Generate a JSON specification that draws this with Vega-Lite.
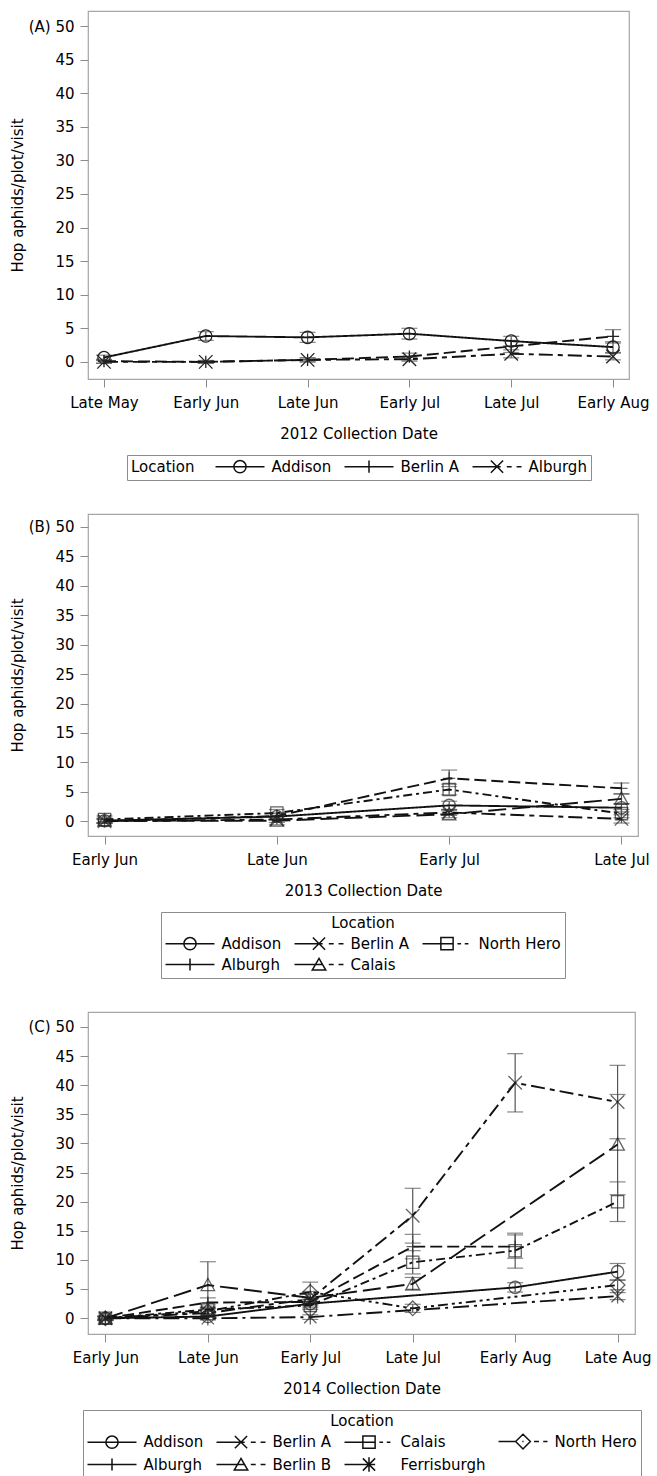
{
  "$schema": "https://vega.github.io/schema/vega-lite/v6.json",
  "padding": {"left": 9, "top": 10, "right": 4, "bottom": 0},
  "config": {
    "font": "DejaVu Sans",
    "background": "white",
    "view": {"stroke": "#a6a6a6", "strokeWidth": 1.2},
    "axis": {
      "labelFontSize": 15, "titleFontSize": 15, "titleFontWeight": "normal",
      "labelColor": "#000", "titleColor": "#000", "tickColor": "#8c8c8c",
      "domain": false, "grid": false, "tickSize": 8
    },
    "legend": {
      "labelFontSize": 15, "titleFontSize": 15, "titleFontWeight": "normal",
      "labelColor": "#000", "titleColor": "#000",
      "strokeColor": "#8c8c8c", "padding": 4,
      "symbolSize": 150, "symbolStrokeWidth": 1.5, "symbolStrokeColor": "#111",
      "symbolFillColor": "transparent", "symbolOpacity": 1,
      "symbolOffset": 17.5, "labelOffset": 24,
      "columnPadding": 9, "rowPadding": 2, "offset": 14,
      "layout": {"bottom": {"anchor": "middle"}}
    }
  },
  "spacing": 31,
  "resolve": {
    "scale": {"shape": "independent", "strokeDash": "independent", "x": "independent", "y": "independent"},
    "legend": {"shape": "independent"}
  },
  "vconcat": [
    {
      "width": 541, "height": 368,
      "data": {"values": [
        {"date": "Late May", "loc": "Addison", "v": 0.65, "lo": 0.3, "hi": 1.0},
        {"date": "Early Jun", "loc": "Addison", "v": 3.85, "lo": 3.2, "hi": 4.5},
        {"date": "Late Jun", "loc": "Addison", "v": 3.65, "lo": 2.9, "hi": 4.4},
        {"date": "Early Jul", "loc": "Addison", "v": 4.2, "lo": 3.4, "hi": 5.0},
        {"date": "Late Jul", "loc": "Addison", "v": 3.1, "lo": 2.4, "hi": 3.8},
        {"date": "Early Aug", "loc": "Addison", "v": 2.2, "lo": 1.4, "hi": 3.0},
        {"date": "Late May", "loc": "Berlin A", "v": 0.1, "lo": -0.2, "hi": 0.4},
        {"date": "Early Jun", "loc": "Berlin A", "v": 0.0, "lo": -0.2, "hi": 0.2},
        {"date": "Late Jun", "loc": "Berlin A", "v": 0.3, "lo": 0.0, "hi": 0.6},
        {"date": "Early Jul", "loc": "Berlin A", "v": 0.8, "lo": 0.3, "hi": 1.3},
        {"date": "Late Jul", "loc": "Berlin A", "v": 2.3, "lo": 1.4, "hi": 3.2},
        {"date": "Early Aug", "loc": "Berlin A", "v": 3.8, "lo": 2.8, "hi": 4.8},
        {"date": "Late May", "loc": "Alburgh", "v": 0.0, "lo": -0.2, "hi": 0.2},
        {"date": "Early Jun", "loc": "Alburgh", "v": 0.0, "lo": -0.2, "hi": 0.2},
        {"date": "Late Jun", "loc": "Alburgh", "v": 0.3, "lo": 0.0, "hi": 0.6},
        {"date": "Early Jul", "loc": "Alburgh", "v": 0.4, "lo": 0.1, "hi": 0.7},
        {"date": "Late Jul", "loc": "Alburgh", "v": 1.2, "lo": 0.6, "hi": 1.8},
        {"date": "Early Aug", "loc": "Alburgh", "v": 0.8, "lo": 0.3, "hi": 1.3}
      ]},
      "encoding": {
        "x": {
          "field": "date", "type": "ordinal", "title": "2012 Collection Date",
          "scale": {"type": "point", "domain": ["Late May", "Early Jun", "Late Jun", "Early Jul", "Late Jul", "Early Aug"], "padding": 0.157},
          "axis": {"labelAngle": 0, "labelPadding": 8, "titlePadding": 16}
        },
        "y": {
          "field": "v", "type": "quantitative", "title": "Hop aphids/plot/visit",
          "scale": {"domain": [-2.55, 52.25], "nice": false, "zero": false},
          "axis": {"values": [0, 5, 10, 15, 20, 25, 30, 35, 40, 45, 50], "labelExpr": "datum.value == 50 ? '(A)   50' : datum.label", "labelPadding": 6, "titlePadding": -7}
        }
      },
      "layer": [
        {
          "mark": {"type": "errorbar", "ticks": {"size": 16, "color": "#555", "thickness": 1.2}, "rule": {"color": "#555", "strokeWidth": 1.2}},
          "encoding": {"y": {"field": "lo", "type": "quantitative", "title": "Hop aphids/plot/visit"}, "y2": {"field": "hi"}}
        },
        {
          "mark": {"type": "line", "color": "#111", "strokeWidth": 1.9},
          "encoding": {
            "strokeDash": {"field": "loc", "type": "nominal", "legend": null,
              "scale": {"domain": ["Addison", "Berlin A", "Alburgh"], "range": [[1, 0], [12, 5], [14, 5, 5, 5]]}},
            "order": {"value": null}
          }
        },
        {
          "mark": {"type": "point", "filled": false, "size": 150, "color": "#222", "strokeWidth": 1.3, "opacity": 1},
          "encoding": {
            "shape": {"field": "loc", "type": "nominal", "legend": null,
              "scale": {"domain": ["Addison", "Berlin A", "Alburgh"], "range": ["circle", "M0,-1V1M-1,0H1", "M-1.1,-1.1L1.1,1.1M-1.1,1.1L1.1,-1.1"]}}
          }
        },
        {
          "mark": {"type": "point", "filled": false, "size": 150, "color": "#111", "strokeWidth": 1.5, "opacity": 0},
          "encoding": {
            "shape": {"field": "loc", "type": "nominal",
              "scale": {"domain": ["Addison", "Berlin A", "Alburgh"], "range": [
                "M-4,0H4M1,0A1,1,0,1,1,-1,0A1,1,0,1,1,1,0",
                "M-4,0H4M0,-1V1",
                "M-4,0H0.6M-1,-1L1,1M-1,1L1,-1M1.6,0H2.4M3.2,0H4"
              ]},
              "legend": {"title": "Location", "orient": "bottom", "direction": "horizontal", "columns": 3, "titleOrient": "left", "titlePadding": 20, "titleBaseline": "middle"}
            }
          }
        }
      ],
      "resolve": {"scale": {"shape": "independent"}}
    },
    {
      "width": 550, "height": 322,
      "data": {"values": [
        {"date": "Early Jun", "loc": "Addison", "v": 0.1, "lo": -0.3, "hi": 0.5},
        {"date": "Late Jun", "loc": "Addison", "v": 0.8, "lo": 0.3, "hi": 1.3},
        {"date": "Early Jul", "loc": "Addison", "v": 2.7, "lo": 2.0, "hi": 3.4},
        {"date": "Late Jul", "loc": "Addison", "v": 2.3, "lo": 1.6, "hi": 3.0},
        {"date": "Early Jun", "loc": "Alburgh", "v": 0.0, "lo": -0.3, "hi": 0.3},
        {"date": "Late Jun", "loc": "Alburgh", "v": 0.9, "lo": 0.4, "hi": 1.4},
        {"date": "Early Jul", "loc": "Alburgh", "v": 7.3, "lo": 5.9, "hi": 8.7},
        {"date": "Late Jul", "loc": "Alburgh", "v": 5.6, "lo": 4.7, "hi": 6.5},
        {"date": "Early Jun", "loc": "Berlin A", "v": 0.0, "lo": -0.3, "hi": 0.3},
        {"date": "Late Jun", "loc": "Berlin A", "v": 0.3, "lo": -0.2, "hi": 0.8},
        {"date": "Early Jul", "loc": "Berlin A", "v": 1.5, "lo": 1.0, "hi": 2.0},
        {"date": "Late Jul", "loc": "Berlin A", "v": 0.4, "lo": -0.3, "hi": 1.1},
        {"date": "Early Jun", "loc": "Calais", "v": 0.1, "lo": -0.3, "hi": 0.5},
        {"date": "Late Jun", "loc": "Calais", "v": 0.1, "lo": -0.6, "hi": 0.8},
        {"date": "Early Jul", "loc": "Calais", "v": 1.2, "lo": 0.6, "hi": 1.8},
        {"date": "Late Jul", "loc": "Calais", "v": 3.8, "lo": 3.0, "hi": 4.6},
        {"date": "Early Jun", "loc": "North Hero", "v": 0.3, "lo": -0.3, "hi": 0.9},
        {"date": "Late Jun", "loc": "North Hero", "v": 1.4, "lo": 0.8, "hi": 2.0},
        {"date": "Early Jul", "loc": "North Hero", "v": 5.4, "lo": 4.5, "hi": 6.3},
        {"date": "Late Jul", "loc": "North Hero", "v": 1.3, "lo": 0.6, "hi": 2.0}
      ]},
      "encoding": {
        "x": {
          "field": "date", "type": "ordinal", "title": "2013 Collection Date",
          "scale": {"type": "point", "domain": ["Early Jun", "Late Jun", "Early Jul", "Late Jul"], "padding": 0.096},
          "axis": {"labelAngle": 0, "labelPadding": 8, "titlePadding": 16}
        },
        "y": {
          "field": "v", "type": "quantitative", "title": "Hop aphids/plot/visit",
          "scale": {"domain": [-2.5, 52.2], "nice": false, "zero": false},
          "axis": {"values": [0, 5, 10, 15, 20, 25, 30, 35, 40, 45, 50], "labelExpr": "datum.value == 50 ? '(B)   50' : datum.label", "labelPadding": 6, "titlePadding": -7}
        }
      },
      "layer": [
        {
          "mark": {"type": "errorbar", "ticks": {"size": 16, "color": "#555", "thickness": 1.2}, "rule": {"color": "#555", "strokeWidth": 1.2}},
          "encoding": {"y": {"field": "lo", "type": "quantitative", "title": "Hop aphids/plot/visit"}, "y2": {"field": "hi"}}
        },
        {
          "mark": {"type": "line", "color": "#111", "strokeWidth": 1.9},
          "encoding": {
            "strokeDash": {"field": "loc", "type": "nominal", "legend": null,
              "scale": {"domain": ["Addison", "Alburgh", "Berlin A", "Calais", "North Hero"], "range": [[1, 0], [12, 5], [14, 5, 5, 5], [18, 6], [9, 4, 3, 4]]}},
            "order": {"value": null}
          }
        },
        {
          "mark": {"type": "point", "filled": false, "size": 150, "color": "#222", "strokeWidth": 1.3},
          "encoding": {
            "shape": {"field": "loc", "type": "nominal", "legend": null,
              "scale": {"domain": ["Addison", "Alburgh", "Berlin A", "Calais", "North Hero"], "range": ["circle", "M0,-1V1M-1,0H1", "M-1.1,-1.1L1.1,1.1M-1.1,1.1L1.1,-1.1", "M0,-1.1L1.1,0.9H-1.1Z", "square"]}}
          }
        },
        {
          "mark": {"type": "point", "filled": false, "size": 150, "color": "#111", "strokeWidth": 1.5, "opacity": 0},
          "encoding": {
            "shape": {"field": "loc", "type": "nominal",
              "scale": {"domain": ["Addison", "Berlin A", "North Hero", "Alburgh", "Calais"], "range": [
                "M-4,0H4M1,0A1,1,0,1,1,-1,0A1,1,0,1,1,1,0",
                "M-4,0H0.6M-1,-1L1,1M-1,1L1,-1M1.6,0H2.4M3.2,0H4",
                "M-4,0H1M-1,-1H1V1H-1ZM1.7,0H2.3M2.9,0H3.5",
                "M-4,0H4M0,-1V1",
                "M-4,0H0.5M0,-1L1.1,0.9H-1.1ZM1.6,0H2.4M3.2,0H4"
              ]},
              "legend": {"title": "Location", "orient": "bottom", "direction": "horizontal", "columns": 3, "titleOrient": "top", "titleAnchor": "middle"}
            }
          }
        }
      ],
      "resolve": {"scale": {"shape": "independent"}}
    },
    {
      "width": 547, "height": 322,
      "data": {"values": [
        {"date": "Early Jun", "loc": "Addison", "v": 0.0, "lo": -0.4, "hi": 0.4},
        {"date": "Late Jun", "loc": "Addison", "v": 0.3, "lo": -0.2, "hi": 0.8},
        {"date": "Early Jul", "loc": "Addison", "v": 2.5, "lo": 1.8, "hi": 3.2},
        {"date": "Early Aug", "loc": "Addison", "v": 5.3, "lo": 4.5, "hi": 6.1},
        {"date": "Late Aug", "loc": "Addison", "v": 8.0, "lo": 6.6, "hi": 9.4},
        {"date": "Early Jun", "loc": "Alburgh", "v": 0.0, "lo": -0.3, "hi": 0.3},
        {"date": "Late Jun", "loc": "Alburgh", "v": 2.7, "lo": 1.9, "hi": 3.5},
        {"date": "Early Jul", "loc": "Alburgh", "v": 2.8, "lo": 2.1, "hi": 3.5},
        {"date": "Late Jul", "loc": "Alburgh", "v": 12.3, "lo": 10.2, "hi": 14.4},
        {"date": "Early Aug", "loc": "Alburgh", "v": 12.3, "lo": 10.3, "hi": 14.3},
        {"date": "Early Jun", "loc": "Berlin A", "v": 0.0, "lo": -0.3, "hi": 0.3},
        {"date": "Late Jun", "loc": "Berlin A", "v": 0.9, "lo": 0.2, "hi": 1.6},
        {"date": "Early Jul", "loc": "Berlin A", "v": 3.3, "lo": 2.5, "hi": 4.1},
        {"date": "Late Jul", "loc": "Berlin A", "v": 17.6, "lo": 12.9, "hi": 22.3},
        {"date": "Early Aug", "loc": "Berlin A", "v": 40.4, "lo": 35.4, "hi": 45.4},
        {"date": "Late Aug", "loc": "Berlin A", "v": 37.1, "lo": 30.8, "hi": 43.4},
        {"date": "Early Jun", "loc": "Berlin B", "v": 0.0, "lo": -0.3, "hi": 0.3},
        {"date": "Late Jun", "loc": "Berlin B", "v": 5.7, "lo": 1.7, "hi": 9.7},
        {"date": "Early Jul", "loc": "Berlin B", "v": 3.5, "lo": 2.4, "hi": 4.6},
        {"date": "Late Jul", "loc": "Berlin B", "v": 5.9, "lo": 4.8, "hi": 7.0},
        {"date": "Late Aug", "loc": "Berlin B", "v": 29.8, "lo": 21.2, "hi": 38.4},
        {"date": "Early Jun", "loc": "Calais", "v": 0.0, "lo": -0.3, "hi": 0.3},
        {"date": "Late Jun", "loc": "Calais", "v": 1.5, "lo": 0.7, "hi": 2.3},
        {"date": "Early Jul", "loc": "Calais", "v": 2.2, "lo": 1.5, "hi": 2.9},
        {"date": "Late Jul", "loc": "Calais", "v": 9.6, "lo": 7.6, "hi": 11.6},
        {"date": "Early Aug", "loc": "Calais", "v": 11.6, "lo": 8.6, "hi": 14.6},
        {"date": "Late Aug", "loc": "Calais", "v": 20.0, "lo": 16.6, "hi": 23.4},
        {"date": "Early Jun", "loc": "Ferrisburgh", "v": 0.0, "lo": -0.3, "hi": 0.3},
        {"date": "Late Jun", "loc": "Ferrisburgh", "v": 0.0, "lo": -0.3, "hi": 0.3},
        {"date": "Early Jul", "loc": "Ferrisburgh", "v": 0.2, "lo": -0.2, "hi": 0.6},
        {"date": "Late Aug", "loc": "Ferrisburgh", "v": 3.8, "lo": 3.2, "hi": 4.4},
        {"date": "Early Jun", "loc": "North Hero", "v": 0.0, "lo": -0.3, "hi": 0.3},
        {"date": "Late Jun", "loc": "North Hero", "v": 1.2, "lo": 0.5, "hi": 1.9},
        {"date": "Early Jul", "loc": "North Hero", "v": 4.5, "lo": 2.8, "hi": 6.2},
        {"date": "Late Jul", "loc": "North Hero", "v": 1.7, "lo": 1.0, "hi": 2.4},
        {"date": "Late Aug", "loc": "North Hero", "v": 5.7, "lo": 4.9, "hi": 6.5}
      ]},
      "encoding": {
        "x": {
          "field": "date", "type": "ordinal", "title": "2014 Collection Date",
          "scale": {"type": "point", "domain": ["Early Jun", "Late Jun", "Early Jul", "Late Jul", "Early Aug", "Late Aug"], "padding": 0.17},
          "axis": {"labelAngle": 0, "labelPadding": 8, "titlePadding": 16}
        },
        "y": {
          "field": "v", "type": "quantitative", "title": "Hop aphids/plot/visit",
          "scale": {"domain": [-2.7, 52.55], "nice": false, "zero": false},
          "axis": {"values": [0, 5, 10, 15, 20, 25, 30, 35, 40, 45, 50], "labelExpr": "datum.value == 50 ? '(C)   50' : datum.label", "labelPadding": 6, "titlePadding": -7}
        }
      },
      "layer": [
        {
          "mark": {"type": "errorbar", "ticks": {"size": 16, "color": "#555", "thickness": 1.2}, "rule": {"color": "#555", "strokeWidth": 1.2}},
          "encoding": {"y": {"field": "lo", "type": "quantitative", "title": "Hop aphids/plot/visit"}, "y2": {"field": "hi"}}
        },
        {
          "mark": {"type": "line", "color": "#111", "strokeWidth": 1.9},
          "encoding": {
            "strokeDash": {"field": "loc", "type": "nominal", "legend": null,
              "scale": {"domain": ["Addison", "Alburgh", "Berlin A", "Berlin B", "Calais", "Ferrisburgh", "North Hero"], "range": [[1, 0], [12, 5], [14, 5, 5, 5], [18, 6], [9, 4, 3, 4], [16, 5, 3, 5], [10, 4, 3, 4, 3, 4]]}},
            "order": {"value": null}
          }
        },
        {
          "mark": {"type": "point", "filled": false, "size": 150, "color": "#222", "strokeWidth": 1.3},
          "encoding": {
            "shape": {"field": "loc", "type": "nominal", "legend": null,
              "scale": {"domain": ["Addison", "Alburgh", "Berlin A", "Berlin B", "Calais", "Ferrisburgh", "North Hero"], "range": ["circle", "M0,-1V1M-1,0H1", "M-1.1,-1.1L1.1,1.1M-1.1,1.1L1.1,-1.1", "M0,-1.1L1.1,0.9H-1.1Z", "square", "M-1,-1L1,1M-1,1L1,-1M0,-1.2V1.2", "M0,-1.2L1.2,0L0,1.2L-1.2,0Z"]}}
          }
        },
        {
          "mark": {"type": "point", "filled": false, "size": 150, "color": "#111", "strokeWidth": 1.5, "opacity": 0},
          "encoding": {
            "shape": {"field": "loc", "type": "nominal",
              "scale": {"domain": ["Addison", "Berlin A", "Calais", "North Hero", "Alburgh", "Berlin B", "Ferrisburgh"], "range": [
                "M-4,0H4M1,0A1,1,0,1,1,-1,0A1,1,0,1,1,1,0",
                "M-4,0H0.6M-1,-1L1,1M-1,1L1,-1M1.6,0H2.4M3.2,0H4",
                "M-4,0H1M-1,-1H1V1H-1ZM1.7,0H2.3M2.9,0H3.5",
                "M-4,0H-1.2M0,-1.2L1.2,0L0,1.2L-1.2,0ZM-0.1,0H0.1M1.8,0H2.6M3.3,0H4",
                "M-4,0H4M0,-1V1",
                "M-4,0H0.5M0,-1L1.1,0.9H-1.1ZM1.6,0H2.4M3.2,0H4",
                "M-4,0H1M-1,-1L1,1M-1,1L1,-1M0,-1.2V1.2"
              ]},
              "legend": {"title": "Location", "orient": "bottom", "direction": "horizontal", "columns": 4, "titleOrient": "top", "titleAnchor": "middle"}
            }
          }
        }
      ],
      "resolve": {"scale": {"shape": "independent"}}
    }
  ]
}
